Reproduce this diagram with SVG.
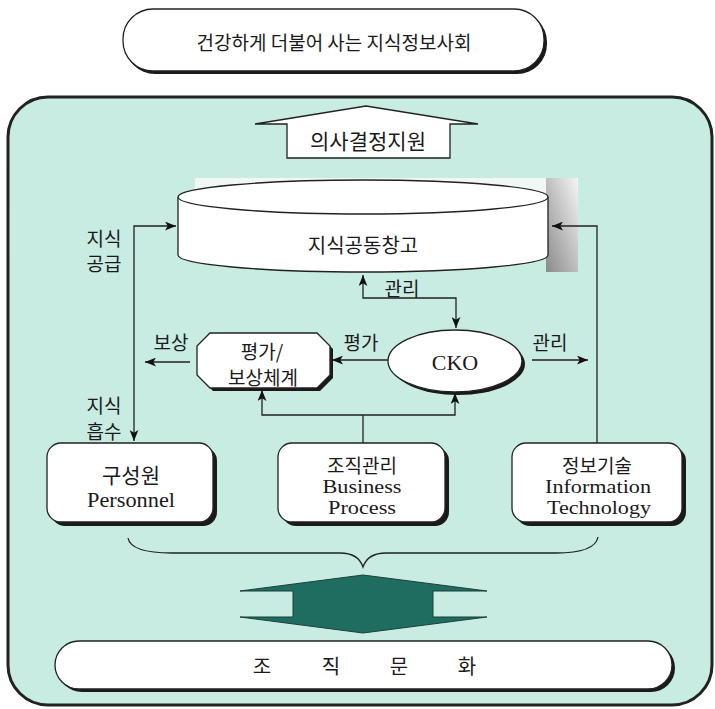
<svg xmlns="http://www.w3.org/2000/svg" width="715" height="709" viewBox="0 0 715 709">
<style>
.ko{font-family:"Noto Sans CJK KR","Noto Sans",sans-serif;fill:#1a1a1a;text-anchor:middle;dominant-baseline:central}
.en{font-family:"Liberation Serif",serif;fill:#1a1a1a;text-anchor:middle;dominant-baseline:central}
.box{fill:#fff;stroke:#222;stroke-width:1.3}
.sh{fill:#1a1a1a}
.ln{fill:none;stroke:#222;stroke-width:1.3}
.lb{font-size:19px}
</style>
<defs>
<marker id="ah" viewBox="0 0 10 8" refX="10" refY="4" markerWidth="11" markerHeight="9" orient="auto-start-reverse" markerUnits="userSpaceOnUse">
<path d="M0,0 L10,4 L0,8 L2.5,4 Z" fill="#111"/>
</marker>
<linearGradient id="cylsh" x1="0" y1="1" x2="1" y2="0">
<stop offset="0" stop-color="#8a8a8a"/>
<stop offset="0.55" stop-color="#c4c4c4"/>
<stop offset="1" stop-color="#f6f6f6"/>
</linearGradient>
</defs>

<g id="top-goal">
<rect x="125" y="12" width="422" height="62" rx="30" class="sh"/>
<rect x="123" y="9" width="421" height="62" rx="30" class="box"/>
<text x="334" y="41" class="ko" font-size="19">건강하게 더불어 사는 지식정보사회</text>
</g>

<g id="panel">
<rect x="8" y="97" width="704" height="608" rx="40" fill="#c8ebe2" stroke="#222" stroke-width="3"/>
</g>

<g id="decision-arrow">
<path d="M287,158 V124 H255 L366,106 L478,124 H450 V158 Z" fill="#fff" stroke="#222" stroke-width="1.3"/>
<text x="368" y="140" class="ko" font-size="21">의사결정지원</text>
</g>

<g id="knowledge-store">
<rect x="195" y="178" width="383" height="24" fill="#f1f7f5"/>
<rect x="546" y="178" width="32" height="94" fill="url(#cylsh)"/>
<path d="M178,197 V255 A185,17 0 0 0 548,255 V197" fill="#fff" stroke="#222" stroke-width="1.3"/>
<ellipse cx="363" cy="197" rx="185" ry="17" fill="#fff" stroke="#222" stroke-width="1.3"/>
<text x="363" y="244" class="ko" font-size="20">지식공동창고</text>
</g>

<g id="cko">
<ellipse cx="458" cy="364" rx="67" ry="31" class="sh"/>
<ellipse cx="455" cy="361" rx="67" ry="31" class="box"/>
<text x="455" y="362" class="en" font-size="22">CKO</text>
</g>

<g id="reward-system">
<path d="M213,336 H320 L333,349 V378 L320,391 H213 L200,378 V349 Z" class="sh"/>
<path d="M210,333 H317 L330,346 V375 L317,388 H210 L197,375 V346 Z" class="box"/>
<text x="262" y="350" class="ko" font-size="19">평가/</text>
<text x="263" y="376" class="ko" font-size="19">보상체계</text>
</g>

<g id="personnel">
<rect x="51" y="447" width="166" height="79" rx="14" class="sh"/>
<rect x="47" y="443" width="166" height="79" rx="14" class="box"/>
<text x="131" y="474" class="ko" font-size="21">구성원</text>
<text x="131" y="500" class="en" font-size="20" textLength="88" lengthAdjust="spacingAndGlyphs">Personnel</text>
</g>

<g id="business-process">
<rect x="282" y="447" width="167" height="79" rx="14" class="sh"/>
<rect x="278" y="443" width="167" height="79" rx="14" class="box"/>
<text x="362" y="464" class="ko" font-size="19">조직관리</text>
<text x="362" y="486" class="en" font-size="19" textLength="79" lengthAdjust="spacingAndGlyphs">Business</text>
<text x="362" y="507" class="en" font-size="19" textLength="68" lengthAdjust="spacingAndGlyphs">Process</text>
</g>

<g id="information-technology">
<rect x="516" y="447" width="170" height="79" rx="14" class="sh"/>
<rect x="512" y="443" width="170" height="79" rx="14" class="box"/>
<text x="597" y="464" class="ko" font-size="19">정보기술</text>
<text x="598" y="486" class="en" font-size="19" textLength="106" lengthAdjust="spacingAndGlyphs">Information</text>
<text x="599" y="507" class="en" font-size="19" textLength="104" lengthAdjust="spacingAndGlyphs">Technology</text>
</g>

<g id="brace">
<path d="M128,538 C130,549 148,553 172,553 L340,553 C353,553 360,558 363,567 C366,558 373,553 386,553 L556,553 C582,553 596,548 598,537" class="ln"/>
</g>

<g id="double-arrow">
<polygon points="363,575 487,591 433,591 433,617 487,617 363,633 240,617 293,617 293,591 240,591" fill="#1f6d61" stroke="#1a3f38" stroke-width="1"/>
</g>

<g id="culture">
<rect x="58" y="644" width="617" height="48" rx="24" class="sh"/>
<rect x="55" y="641" width="617" height="48" rx="24" class="box"/>
<text x="262" y="665" class="ko" font-size="20">조</text>
<text x="331" y="665" class="ko" font-size="20">직</text>
<text x="399" y="665" class="ko" font-size="20">문</text>
<text x="467" y="665" class="ko" font-size="20">화</text>
</g>

<g id="connectors">
<path d="M176,226 H134 V441" class="ln" marker-start="url(#ah)" marker-end="url(#ah)"/>
<path d="M552,226 H597 V443" class="ln" marker-start="url(#ah)"/>
<path d="M363,275 V298 H456 V328" class="ln" marker-start="url(#ah)" marker-end="url(#ah)"/>
<path d="M532,360 H588" class="ln" marker-end="url(#ah)"/>
<path d="M388,360 H332" class="ln" marker-end="url(#ah)"/>
<path d="M190,362 H145" class="ln" marker-end="url(#ah)"/>
<path d="M363,443 V415" class="ln"/>
<path d="M262,390 V415 H455 V393" class="ln" marker-start="url(#ah)" marker-end="url(#ah)"/>
</g>

<g id="labels">
<text x="104" y="237" class="ko lb">지식</text>
<text x="104" y="262" class="ko lb">공급</text>
<text x="104" y="404" class="ko lb">지식</text>
<text x="104" y="430" class="ko lb">흡수</text>
<text x="402" y="287" class="ko lb">관리</text>
<text x="550" y="341" class="ko lb">관리</text>
<text x="361" y="341" class="ko lb">평가</text>
<text x="171" y="341" class="ko lb">보상</text>
</g>
</svg>
